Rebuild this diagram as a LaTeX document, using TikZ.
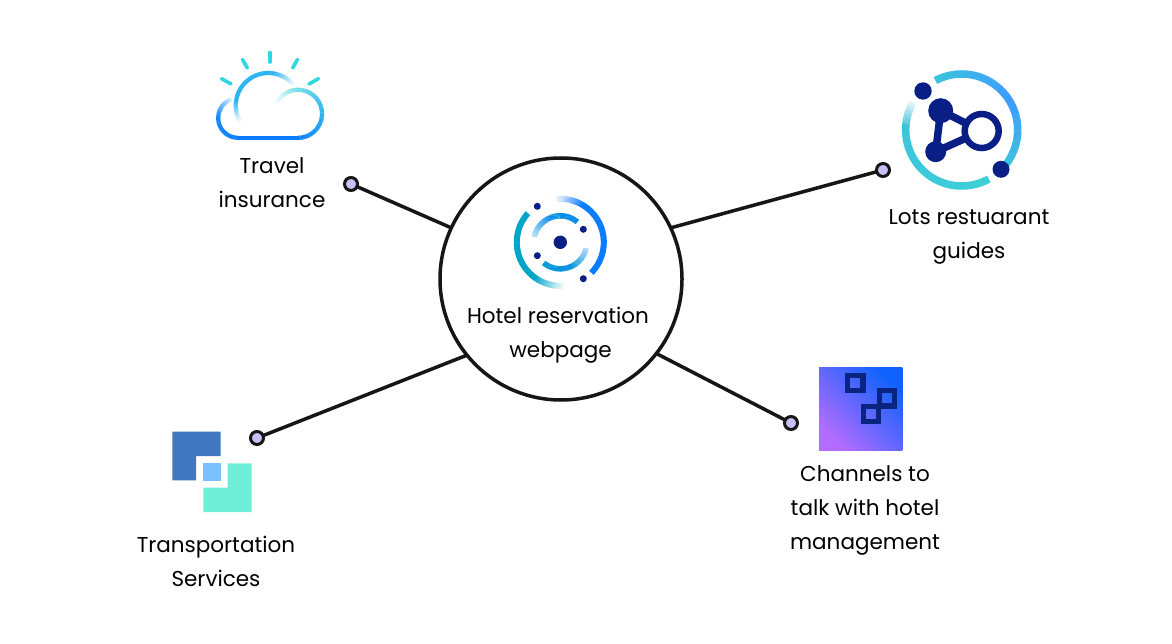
\documentclass[tikz,border=0pt]{standalone}
\usepackage{fontspec}
\setmainfont{Poppins}
\definecolor{ink}{HTML}{161616}
\definecolor{dotfill}{HTML}{C9BFF5}
\definecolor{navy}{HTML}{0A1F85}
\definecolor{sqnavy}{HTML}{0A2580}
\definecolor{ablue}{HTML}{0A7CFF}
\definecolor{asky}{HTML}{2CB4F0}
\definecolor{apale}{HTML}{70DFE8}
\definecolor{ateal}{HTML}{00A5C8}
\definecolor{aring}{HTML}{3D9BFF}
\definecolor{aringt}{HTML}{3CC4DC}
\definecolor{aringb}{HTML}{3DD0D8}
\definecolor{ray}{HTML}{2ED8E0}
\definecolor{chtop}{HTML}{0F62FE}
\definecolor{chmid}{HTML}{5C66FA}
\definecolor{chbot}{HTML}{B46CFF}
\newcommand{\gradarc}[8]{%
  \foreach \i in {1,...,30}{%
    \pgfmathsetmacro\sa{#5+(#6-(#5))*(\i-1)/30}%
    \pgfmathsetmacro\sb{#5+(#6-(#5))*(\i+0.15)/30}%
    \pgfmathsetmacro\pc{100*(\i-0.5)/30}%
    \draw[line width=#4, color={#8!\pc!#7}] plot[domain=\sa:\sb, samples=3, variable=\t] ({#1+#3*cos(\t)},{#2+#3*sin(\t)});
  }%
}
\tikzset{
  label text/.style={align=center, font=\fontsize{21.5}{34}\selectfont, text=black, inner sep=0pt},
  hubnode/.style={circle, draw=ink, line width=3.5pt, minimum size=242pt, inner sep=0pt, outer sep=0pt},
  enddot/.style={circle, draw=ink, fill=dotfill, line width=3pt, minimum size=13pt, inner sep=0pt, outer sep=0pt},
  link/.style={draw=ink, line width=3.5pt},
  sqicon/.style={draw=sqnavy, line width=5.2pt},
  rayline/.style={draw=ray, line width=3.6pt, line cap=round}
}
\begin{document}
\begin{tikzpicture}[x=1pt,y=-1pt]
\useasboundingbox (0,0) rectangle (1172,644);
\fill[white] (0,0) rectangle (1172,644);
% hub
\node[hubnode] (hub) at (561,279) {};
\node[label text] (hubtext) at (558,335) {Hotel reservation\\\hspace*{5pt}webpage};
% connector ends
\node[enddot] (d1) at (351,184) {};
\node[enddot] (d2) at (883,170) {};
\node[enddot] (d3) at (791,423) {};
\node[enddot] (d4) at (257,438) {};
\draw[link] (hub.155) -- (d1);
\draw[link] (hub.25) -- (d2);
\draw[link] (hub.-38) -- (d3);
\draw[link] (hub.219) -- (d4);
% labels
\node[label text] (t1) at (272,183) {Travel\\insurance};
\node[label text] (t2) at (969,236.5) {Lots restuarant\\guides};
\node[label text] (t3) at (865,510) {Channels to\\talk with hotel\\management};
\node[label text] (t4) at (216,561) {Transportation\\Services};
% central icon
\fill[navy] (560.3,242.3) circle[radius=6.7pt];
\foreach \p in {(537.3,206.3),(583.3,229.3),(537.3,255.7),(583.3,278.7)}{\fill[navy] \p circle[radius=3.5pt];}
\gradarc{560.3}{242.3}{43.5}{6pt}{-97}{-60}{white}{ablue}
\gradarc{560.3}{242.3}{43.5}{6pt}{-60}{44}{ablue}{ablue}
\gradarc{560.3}{242.3}{43.5}{6pt}{222}{125}{ateal}{ateal}
\gradarc{560.3}{242.3}{43.5}{6pt}{125}{84}{ateal}{white}
\gradarc{560.3}{242.3}{26.5}{5.5pt}{-50}{-110}{ablue!70!ateal}{ablue!70!ateal}
\gradarc{560.3}{242.3}{26.5}{5.5pt}{-110}{-168}{ablue!70!ateal}{white}
\gradarc{560.3}{242.3}{26.5}{5.5pt}{129}{65}{ateal!70!ablue}{ateal!70!ablue}
\gradarc{560.3}{242.3}{26.5}{5.5pt}{65}{13}{ateal!70!ablue}{white}
% cloud
\draw[rayline] (270,52.5) -- (270,62);
\draw[rayline] (242.5,59.5) -- (247.3,68);
\draw[rayline] (297.5,59.5) -- (292.7,68);
\draw[rayline] (221.5,78.7) -- (231,84);
\draw[rayline] (318.5,78.7) -- (309,84);
\draw[ablue, line width=4.2pt] (238,137.8) -- (298,137.8);
\gradarc{238}{118}{19.8}{4.2pt}{90}{190}{ablue}{ablue!75!asky}
\gradarc{238}{118}{19.8}{4.2pt}{190}{250}{ablue!75!asky}{white}
\gradarc{298}{113.8}{24}{4.2pt}{90}{0}{ablue}{asky}
\gradarc{298}{113.8}{24}{4.2pt}{0}{-90}{asky}{apale}
\gradarc{298}{113.8}{24}{4.2pt}{-90}{-159}{apale}{white}
\gradarc{268.3}{105.5}{32.5}{4.2pt}{150}{185}{white}{asky}
\gradarc{268.3}{105.5}{32.5}{4.2pt}{185}{280}{asky}{asky}
\gradarc{268.3}{105.5}{32.5}{4.2pt}{280}{323}{asky}{white}
% right icon
\gradarc{961.7}{130}{56}{7.5pt}{-118}{-30}{aringt}{aring}
\gradarc{961.7}{130}{56}{7.5pt}{-30}{40}{aring}{aringt}
\gradarc{961.7}{130}{56}{7.5pt}{61}{185}{aringb}{aringt}
\gradarc{961.7}{130}{56}{7.5pt}{185}{212}{aringt}{white}
\draw[navy, line width=7.5pt, line join=round] (940.7,110.7) -- (935.7,151.7) -- (981.7,131) -- cycle;
\fill[navy] (940.7,110.7) circle[radius=12.5pt];
\fill[navy] (935.7,151.7) circle[radius=10.5pt];
\draw[navy, line width=6.5pt, fill=white] (981.7,131) circle[radius=17pt];
\fill[navy] (923,91) circle[radius=8.7pt];
\fill[navy] (1001,169.3) circle[radius=8.5pt];
% channels icon
\shade[top color=chtop, middle color=chmid, bottom color=chbot, shading angle=-45] (819,367.3) rectangle (902.3,450.3);
\draw[sqicon] (847.8,375.1) rectangle (862.9,390.2);
\draw[sqicon] (879.1,390.8) rectangle (894.2,405.9);
\draw[sqicon] (863.5,406.5) rectangle (878.5,421.2);
% transport icon
\fill[fill={rgb,255:red,65;green,120;blue,192}] (172.3,431.7) -- (220.7,431.7) -- (220.7,456) -- (196,456) -- (196,480.3) -- (172.3,480.3) -- cycle;
\fill[fill={rgb,255:red,111;green,239;blue,216}] (203.3,487.7) -- (227.7,487.7) -- (227.7,463.3) -- (251.7,463.3) -- (251.7,512) -- (203.3,512) -- cycle;
\fill[fill={rgb,255:red,120;green,192;blue,255}] (203.3,463.3) rectangle (220.7,480.7);
\end{tikzpicture}
\end{document}
